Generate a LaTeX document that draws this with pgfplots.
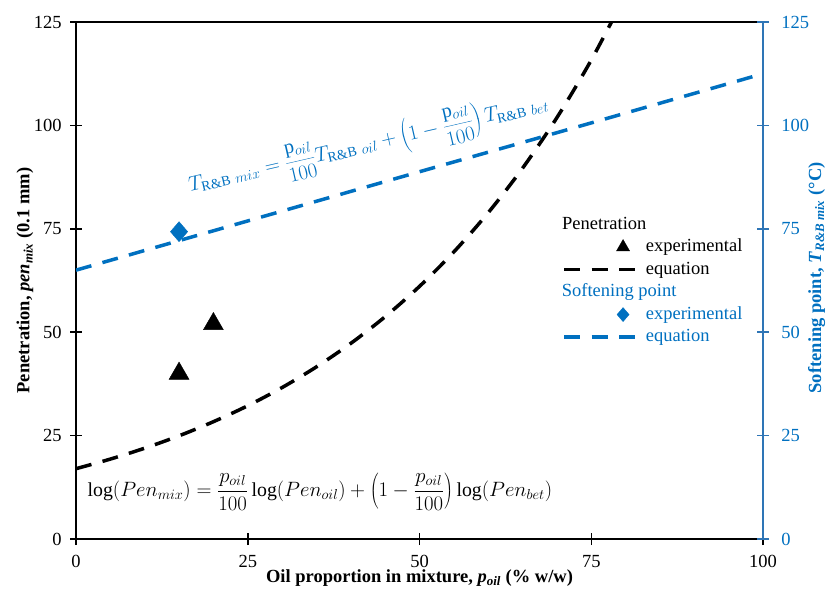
\documentclass[border=0pt]{standalone}
\usepackage{fontspec}
\setmainfont{Liberation Serif}
\usepackage{pgfplots}
\pgfplotsset{compat=1.18}
\definecolor{myblue}{HTML}{0070C0}
\definecolor{axblue}{HTML}{2E75B6}
\pgfplotsset{
  linelegend/.style={legend image code/.code={\draw[##1] (0pt,0pt) -- (71pt,0pt);}},
  marklegend/.style={legend image code/.code={\path[draw=none] (0pt,0pt) (71pt,0pt); \draw[##1, only marks, mark size=#1] plot coordinates {(59pt,0pt)};}},
}
\begin{document}
\fontsize{18.5}{22}\selectfont
\begin{tikzpicture}
\useasboundingbox (-76pt,-53pt) rectangle (754pt,539pt);
\begin{axis}[
  at={(0,0)}, anchor=south west,
  scale only axis, width=687pt, height=517pt,
  xmin=0, xmax=100, ymin=0, ymax=125,
  xtick={0,25,50,75,100}, ytick={0,25,50,75,100,125},
  xtick pos=bottom, ytick pos=left,
  tick align=center, major tick length=12pt,
  tick style={line width=1.5pt, black},
  axis line style={line width=2pt, black},
  /pgf/number format/assume math mode=true,
  tick label style={font=\fontsize{18.5}{22}\selectfont},
  xticklabel style={yshift=-4pt},
  yticklabel style={xshift=-2pt},
  xlabel={\textbf{Oil proportion in mixture, \textit{p}\textsubscript{\textit{oil}} (\% w/w)}},
  ylabel={\textbf{Penetration, \textit{pen}\textsubscript{\textit{mix}} (0.1 mm)}},
  every axis x label/.style={at={(axis description cs:0.5,0)}, anchor=center, yshift=-39pt, font=\fontsize{18.5}{22}\selectfont},
  every axis y label/.style={at={(axis description cs:-0.0742,0.5)}, rotate=90, anchor=center, font=\fontsize{18.5}{22}\selectfont},
  legend style={at={(rel axis cs:0.7076,0.625)}, anchor=north west, draw=none, fill=none, inner sep=0pt, row sep=5.5pt, column sep=9pt,
    font=\fontsize{18.5}{22}\selectfont,
    nodes={inner xsep=0pt, inner ysep=0pt, text height=13pt, text depth=4pt, anchor=west}},
  legend cell align=left,
]
\addlegendimage{empty legend}
\addlegendentry{\hspace{-84pt}Penetration}
\addplot[only marks, mark=triangle*, mark size=11.5pt, black, marklegend=7.5pt]
  coordinates {(15,40) (20,52)};
\addlegendentry{experimental}
\addplot[black, line width=3.5pt, dash pattern=on 16pt off 11.5pt, smooth, linelegend]
  coordinates {(0,17.0) (5,19.32) (10,21.96) (15,24.95) (20,28.36) (25,32.22) (30,36.62) (35,41.62) (40,47.30) (45,53.75) (50,61.08) (55,69.42) (60,78.89) (65,89.65) (70,101.88) (75,115.79) (80,131.59)};
\addlegendentry{equation}
\addlegendimage{empty legend}
\addlegendentry{\hspace{-84pt}\textcolor{myblue}{Softening point}}
\addplot[only marks, mark=diamond*, mark size=10pt, myblue, mark options={xscale=1.15}, marklegend=7pt]
  coordinates {(15,74.3)};
\addlegendentry{\textcolor{myblue}{experimental}}
\addplot[myblue, line width=3.5pt, dash pattern=on 16pt off 11.5pt, linelegend]
  coordinates {(0,65) (25,76.9) (50,88.8) (75,100.6) (100,112.5)};
\addlegendentry{\textcolor{myblue}{equation}}
\node[anchor=center, black] at (axis cs:35.5,11.4) {\fontsize{19.8}{23}\selectfont $\displaystyle \log(Pen_{mix}) = \frac{p_{oil}}{100}\log(Pen_{oil}) + \left(1-\frac{p_{oil}}{100}\right)\log(Pen_{bet})$};
\node[anchor=center, rotate=13, myblue] at (axis cs:42.6,95.2) {\fontsize{20}{23}\selectfont $\displaystyle T_{\mathrm{R\&B}\ mix} = \frac{\mathrm{p}_{oil}}{100}T_{\mathrm{R\&B}\ oil} + \left(1-\frac{\mathrm{p}_{oil}}{100}\right)T_{\mathrm{R\&B}\ bet}$};
\end{axis}
\begin{axis}[
  at={(0,0)}, anchor=south west,
  scale only axis, width=687pt, height=517pt,
  xmin=0, xmax=100, ymin=0, ymax=125,
  axis x line=none, axis y line*=right,
  ytick={0,25,50,75,100,125},
  tick align=center, major tick length=12pt,
  y axis line style={line width=2.5pt, axblue, -},
  ytick style={line width=1.5pt, axblue},
  /pgf/number format/assume math mode=true,
  yticklabel style={font=\fontsize{18.5}{22}\selectfont, myblue, xshift=6pt},
  ylabel={\textbf{Softening point, \textit{T}\textsubscript{\textit{R\&B mix}} (°C)}},
  every axis y label/.style={at={(axis description cs:1.078,0.505)}, rotate=90, anchor=center, font=\fontsize{18.5}{22}\selectfont, text=myblue},
]
\addplot[draw=none] coordinates {(0,0)};
\end{axis}
\end{tikzpicture}
\end{document}
